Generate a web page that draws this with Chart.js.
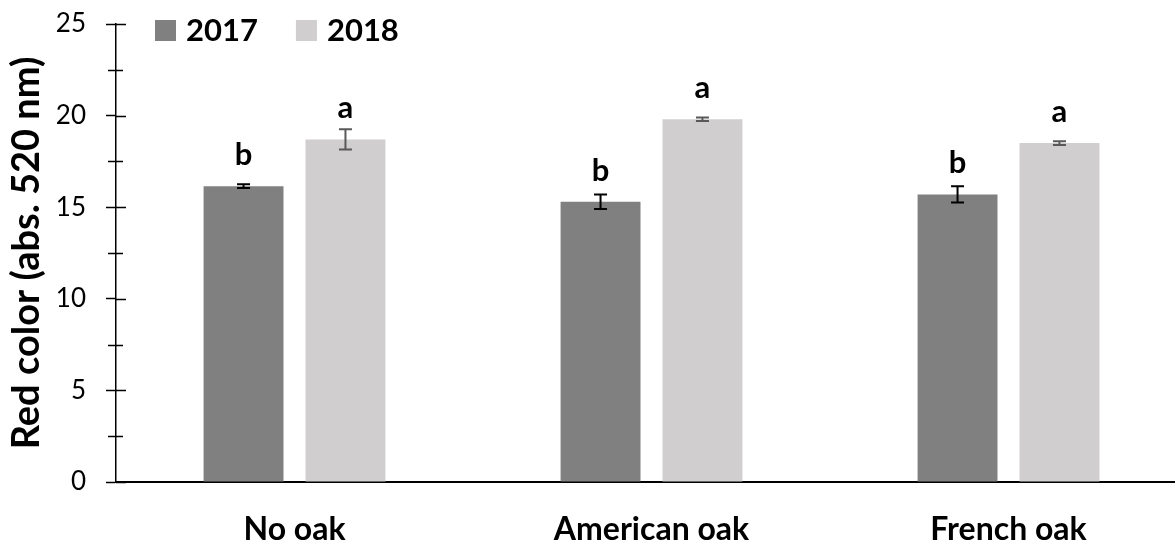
<!DOCTYPE html>
<html>
<head>
<meta charset="utf-8">
<script src="https://cdn.jsdelivr.net/npm/chart.js@4.4.0/dist/chart.umd.min.js"></script>
<style>
  html, body { margin: 0; padding: 0; background: #fff; overflow: hidden; }
  #wrap { width: 1187px; height: 544px; position: relative; }
</style>
</head>
<body>
<div id="wrap"><canvas id="myChart"></canvas></div>
<script>
(() => {
  'use strict'

  const categories = ['No oak', 'American oak', 'French oak']
  const years = ['2017', '2018']
  const values2017 = [16.15, 15.3, 15.7]
  const values2018 = [18.7, 19.8, 18.5]
  const errors2017 = [0.1, 0.4, 0.45]
  const errors2018 = [0.55, 0.1, 0.1]
  const letters2017 = ['b', 'b', 'b']
  const letters2018 = ['a', 'a', 'a']
  const yTicks = [0, 5, 10, 15, 20, 25]

  const font = 'Lato, "Open Sans", sans-serif'

  // error bars, letters, inner tick marks and the legend row
  const extras = {
    id: 'extras',
    afterDatasetsDraw(chart) {
      const c = chart.ctx
      const y = chart.scales.y
      const errs = [errors2017, errors2018]
      const lets = [letters2017, letters2018]
      const errColors = ['#000000', '#595959']
      c.save()
      chart.data.datasets.forEach((ds, i) => {
        const meta = chart.getDatasetMeta(i)
        meta.data.forEach((bar, j) => {
          const v = ds.data[j]
          const top = y.getPixelForValue(v + errs[i][j])
          const bot = y.getPixelForValue(v - errs[i][j])
          c.strokeStyle = errColors[i]
          c.lineWidth = 2
          c.beginPath()
          c.moveTo(bar.x, top); c.lineTo(bar.x, bot)
          c.moveTo(bar.x - 6.5, top); c.lineTo(bar.x + 6.5, top)
          c.moveTo(bar.x - 6.5, bot); c.lineTo(bar.x + 6.5, bot)
          c.stroke()
          c.fillStyle = '#000'
          c.font = 'bold 31px ' + font
          c.textAlign = 'center'
          c.textBaseline = 'alphabetic'
          c.fillText(lets[i][j], bar.x, bar.y - 21)
        })
      })
      // inner half of the y ticks (major and minor)
      const x0 = chart.scales.x.left
      c.strokeStyle = '#000'
      c.lineWidth = 1.5
      c.beginPath()
      for (let t = 0; t <= 25; t += 2.5) {
        const py = Math.round(y.getPixelForValue(t)) + 0.5
        if (t % 5 === 0) {
          c.moveTo(x0, py); c.lineTo(x0 + 10, py)
        } else {
          c.moveTo(x0 - 8, py); c.lineTo(x0 + 7, py)
        }
      }
      c.stroke()
      // legend
      let lx = chart.chartArea.left + 39
      const ly = 20
      c.font = 'bold 31px ' + font
      c.textAlign = 'left'
      c.textBaseline = 'middle'
      chart.data.datasets.forEach(ds => {
        c.fillStyle = ds.backgroundColor
        c.fillRect(lx, ly, 21, 21)
        c.fillStyle = '#000'
        c.fillText(ds.label, lx + 31, ly + 11)
        lx += 31 + c.measureText(ds.label).width + 38
      })
      c.restore()
    }
  }

  const ctx = document.getElementById('myChart')

  new Chart(ctx, {
    type: 'bar',
    data: {
      labels: categories,
      datasets: [{
        label: years[0],
        data: values2017,
        backgroundColor: '#808080',
        categoryPercentage: 0.571,
        barPercentage: 0.784
      }, {
        label: years[1],
        data: values2018,
        backgroundColor: '#d0cece',
        categoryPercentage: 0.571,
        barPercentage: 0.784
      }]
    },
    options: {
      responsive: true,
      maintainAspectRatio: false,
      animation: false,
      layout: { padding: { top: 24, right: 0, bottom: 0, left: 0 } },
      scales: {
        x: {
          grid: { display: false, drawTicks: false },
          border: { color: '#000', width: 2 },
          afterFit(axis) {
            axis.height = 62
          },
          ticks: {
            color: '#000',
            padding: 28,
            font: { family: font, size: 32, weight: 'bold' }
          }
        },
        y: {
          min: 0,
          max: 25,
          afterBuildTicks(axis) {
            axis.ticks = yTicks.map(v => ({ value: v }))
          },
          afterFit(axis) {
            axis.width = 116
            axis.paddingTop = 0
            axis.paddingBottom = 0
          },
          grid: {
            drawOnChartArea: false,
            tickLength: 10,
            tickWidth: 1.5,
            tickColor: '#000'
          },
          border: { color: '#000', width: 1.5 },
          ticks: {
            color: '#000',
            padding: 20,
            font: { family: font, size: 26 }
          },
          title: {
            display: true,
            text: 'Red color (abs. 520 nm)',
            color: '#000',
            padding: { top: 4, bottom: 0 },
            font: { family: font, size: 38, weight: 'bold' }
          }
        }
      },
      plugins: {
        legend: { display: false },
        tooltip: { enabled: false }
      }
    },
    plugins: [extras]
  })
})()
</script>
</body>
</html>
